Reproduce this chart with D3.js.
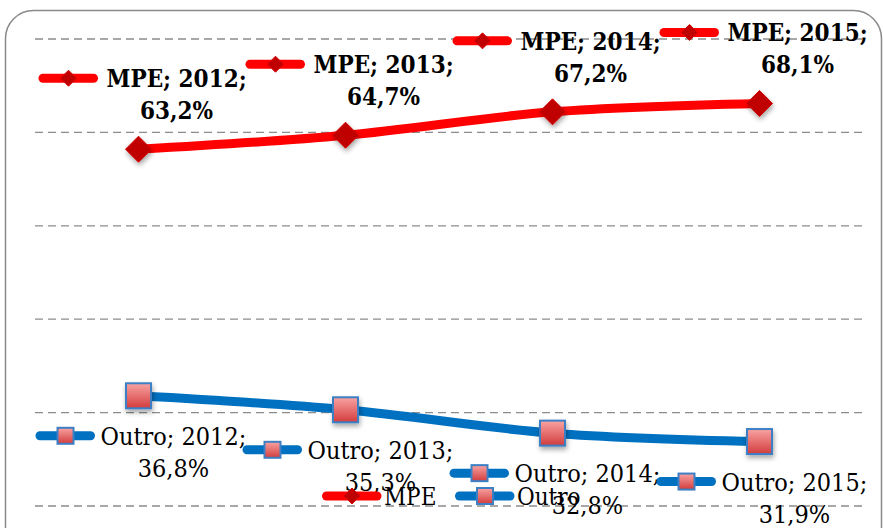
<!DOCTYPE html>
<html>
<head>
<meta charset="utf-8">
<script src="https://cdn.jsdelivr.net/npm/d3@7"></script>
<style>
  body { margin: 0; background: #fff; }
  svg { display: block; }
</style>
</head>
<body>
<div class="chart"></div>
<script>
var years = ['2012', '2013', '2014', '2015'];
var mpe = [63.2, 64.7, 67.2, 68.1];
var outro = [36.8, 35.3, 32.8, 31.9];
var seriesNames = ['MPE', 'Outro'];
var gridTicks = [25, 35, 45, 55, 65, 75];

var W = 883, H = 528;
var serif = "'DejaVu Serif Condensed', 'DejaVu Serif', serif";

var svg = d3.select(".chart")
    .append("svg")
    .attr("width", W)
    .attr("height", H);

var defs = svg.append("defs");

var shadow = defs.append("filter").attr("id", "shadow")
    .attr("x", "-50%").attr("y", "-50%").attr("width", "200%").attr("height", "200%");
shadow.append("feDropShadow")
    .attr("dx", 1).attr("dy", 3).attr("stdDeviation", 2.5)
    .attr("flood-color", "#000").attr("flood-opacity", 0.35);

var sq = defs.append("linearGradient").attr("id", "sqfill")
    .attr("x1", 0).attr("y1", 0).attr("x2", 0).attr("y2", 1);
sq.append("stop").attr("offset", "0%").attr("stop-color", "#f9a3a3");
sq.append("stop").attr("offset", "100%").attr("stop-color", "#d23c3c");

// frame
svg.append("rect")
    .attr("x", 5.5).attr("y", 10.5)
    .attr("width", 876).attr("height", 560)
    .attr("rx", 28)
    .attr("fill", "white")
    .attr("stroke", "#8a8a8a")
    .attr("stroke-width", 1.5);

var x = d3.scalePoint().domain(years).range([35, 863]).padding(0.5);
var y = d3.scaleLinear().domain([25, 75]).range([506, 39]);

// gridlines
svg.append("g").selectAll("line")
    .data(gridTicks)
    .enter().append("line")
    .attr("x1", 35).attr("x2", 862)
    .attr("y1", d => y(d)).attr("y2", d => y(d))
    .attr("stroke", "#8c8c8c")
    .attr("stroke-width", 1.3)
    .attr("stroke-dasharray", "8,5");

var series = [
  { name: seriesNames[0], values: mpe, color: "#ff0000", marker: "diamond" },
  { name: seriesNames[1], values: outro, color: "#0070c0", marker: "square" }
];

var line = d3.line()
    .x((d, i) => x(years[i]))
    .y(d => y(d))
    .curve(d3.curveCatmullRom.alpha(0.5));

function drawMarker(g, type, cx, cy, s, withShadow) {
  if (type === "diamond") {
    g.append("path")
      .attr("d", "M" + cx + "," + (cy - s) + "L" + (cx + s) + "," + cy +
                 "L" + cx + "," + (cy + s) + "L" + (cx - s) + "," + cy + "Z")
      .attr("fill", "#c00000")
      .attr("stroke", "#d40000")
      .attr("stroke-width", 1)
      .attr("filter", withShadow ? "url(#shadow)" : null);
  } else {
    g.append("rect")
      .attr("x", cx - s).attr("y", cy - s)
      .attr("width", 2 * s).attr("height", 2 * s)
      .attr("fill", "url(#sqfill)")
      .attr("stroke", "#3c7fc4")
      .attr("stroke-width", 2)
      .attr("filter", withShadow ? "url(#shadow)" : null);
  }
}

function drawKey(g, s, x0, cy) {
  g.append("line")
    .attr("x1", x0 + 4.5).attr("x2", x0 + 55)
    .attr("y1", cy).attr("y2", cy)
    .attr("stroke", s.color)
    .attr("stroke-width", 9)
    .attr("stroke-linecap", "round");
  drawMarker(g, s.marker, x0 + 30, cy, 8, false);
}

series.forEach(function(s) {
  var g = svg.append("g");
  g.append("path")
    .attr("d", line(s.values))
    .attr("fill", "none")
    .attr("stroke", s.color)
    .attr("stroke-width", 9)
    .attr("stroke-linecap", "round");
  s.values.forEach(function(v, i) {
    drawMarker(g, s.marker, x(years[i]), y(v), s.marker === "diamond" ? 13 : 12.5, true);
  });
});

// data labels (key + "name; year;" + value)
function fmt(v) { return v.toFixed(1).replace(".", ",") + "%"; }

series.forEach(function(s) {
  var bold = s.marker === "diamond";
  var dx = bold ? -100 : -103;
  var dy = bold ? -71 : 40;
  var gap = bold ? 68 : 65;
  var fs = bold ? "24px" : "25px";
  s.values.forEach(function(v, i) {
    var g = svg.append("g");
    var kx = x(years[i]) + dx, ky = y(v) + dy;
    drawKey(g, s, kx, ky);
    var t1 = g.append("text")
      .attr("x", kx + gap).attr("y", ky + 9)
      .attr("font-family", serif)
      .attr("font-size", fs)
      .attr("font-weight", bold ? "bold" : "normal")
      .attr("fill", "black")
      .text(s.name + "; " + years[i] + ";");
    var w = t1.node().getComputedTextLength();
    g.append("text")
      .attr("x", kx + gap + w / 2).attr("y", ky + 41)
      .attr("text-anchor", "middle")
      .attr("font-family", serif)
      .attr("font-size", fs)
      .attr("font-weight", bold ? "bold" : "normal")
      .attr("fill", "black")
      .text(fmt(v));
  });
});

// legend
var legendX = [322, 455];
series.forEach(function(s, i) {
  var g = svg.append("g");
  drawKey(g, s, legendX[i], 496);
  g.append("text")
    .attr("x", legendX[i] + 62).attr("y", 505)
    .attr("font-family", serif)
    .attr("font-size", "24px")
    .attr("fill", "black")
    .text(s.name);
});
</script>
</body>
</html>
